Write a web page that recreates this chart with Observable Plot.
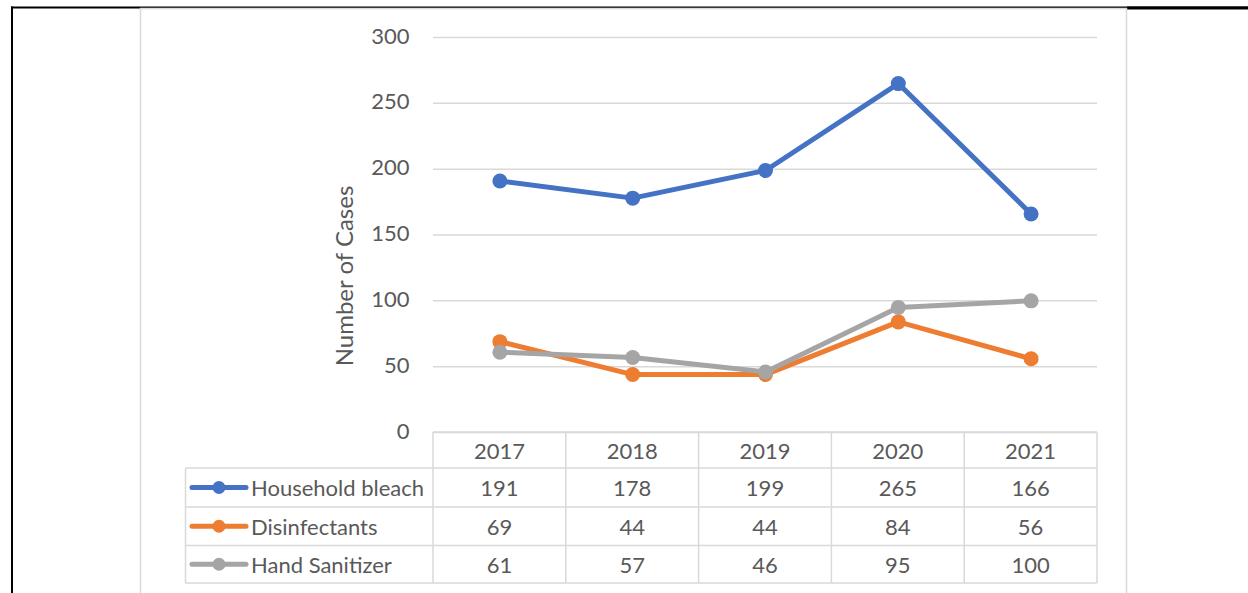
<!DOCTYPE html>
<html><head><meta charset="utf-8">
<script src="https://cdn.jsdelivr.net/npm/d3@7"></script>
<script src="https://cdn.jsdelivr.net/npm/@observablehq/plot@0.6"></script>
<style>html,body{margin:0;padding:0;background:#fff;overflow:hidden} svg{display:block}</style>
</head><body><div id="chart"></div>
<script>
// ---- data ----
const years = ["2017", "2018", "2019", "2020", "2021"];
const seriesNames = ["Household bleach", "Disinfectants", "Hand Sanitizer"];
const householdBleach = [191, 178, 199, 265, 166];
const disinfectants = [69, 44, 44, 84, 56];
const handSanitizer = [61, 57, 46, 95, 100];
const seriesColors = ["#4472C4", "#ED7D31", "#A5A5A5"];
const yTicks = [0, 50, 100, 150, 200, 250, 300];
const yLabel = "Number of Cases";

const seriesValues = [householdBleach, disinfectants, handSanitizer];
const data = seriesNames.flatMap((s, i) => years.map((y, j) => ({series: s, year: y, value: seriesValues[i][j]})));

const FONT = "Lato, 'Open Sans', sans-serif";
const TEXT = "#595959";
const GRID = "#D9D9D9";
const W = 1248, H = 593;
const plotL = 433, plotR = 1097, plotT = 37, plotB = 432;

const chart = Plot.plot({
  width: W, height: H,
  marginLeft: plotL, marginRight: W - plotR, marginTop: plotT, marginBottom: H - plotB,
  style: {fontFamily: FONT, fontSize: "22px", color: TEXT, background: "white", overflow: "visible"},
  x: {type: "point", domain: years, padding: 0.5, round: false, axis: null},
  y: {domain: [0, 300], axis: null},
  color: {domain: seriesNames, range: seriesColors},
  marks: [
    Plot.gridY(yTicks, {stroke: GRID, strokeOpacity: 1, strokeWidth: 1.5}),
    Plot.axisY(yTicks, {tickSize: 0, tickPadding: 24, label: null, fontSize: 22, fill: TEXT, dy: -1}),
    Plot.line(data, {x: "year", y: "value", z: "series", stroke: "series", strokeWidth: 5, strokeLinejoin: "round", strokeLinecap: "round"}),
    Plot.dot(data, {x: "year", y: "value", fill: "series", r: 7.5})
  ]
});
document.getElementById("chart").appendChild(chart);

// ---- frame & data table drawn with the Plot scales ----
const svg = d3.select(chart);
const xs = chart.scale("x");
const ys = chart.scale("y");
const step = (xs.apply(years[1]) - xs.apply(years[0]));
const colL = y => xs.apply(y) - step / 2;
const colR = y => xs.apply(y) + step / 2;
const y0 = ys.apply(0);
const rows = [y0, 468, 507, 545.5, 583];
const tableLeft = 185.5;
const tableRight = colR(years[years.length - 1]);

const g = svg.append("g");
// page borders
g.append("line").attr("x1", 11).attr("x2", W).attr("y1", 7.5).attr("y2", 7.5).attr("stroke", "#000").attr("stroke-width", 2);
g.append("line").attr("x1", 1127).attr("x2", W).attr("y1", 8).attr("y2", 8).attr("stroke", "#000").attr("stroke-width", 3);
g.append("line").attr("x1", 12).attr("x2", 12).attr("y1", 6.5).attr("y2", H).attr("stroke", "#000").attr("stroke-width", 2);
// chart area border
g.append("rect").attr("x", 140.5).attr("y", 8.5).attr("width", 986).attr("height", H + 10)
  .attr("fill", "none").attr("stroke", GRID).attr("stroke-width", 1.5);

// table lines
const tl = g.append("g").attr("stroke", GRID).attr("stroke-width", 1.5);
tl.append("line").attr("x1", colL(years[0])).attr("x2", tableRight).attr("y1", rows[0]).attr("y2", rows[0]);
rows.slice(1).forEach(r => tl.append("line").attr("x1", tableLeft).attr("x2", tableRight).attr("y1", r).attr("y2", r));
years.forEach(y => tl.append("line").attr("x1", colL(y)).attr("x2", colL(y)).attr("y1", rows[0]).attr("y2", rows[4]));
tl.append("line").attr("x1", tableRight).attr("x2", tableRight).attr("y1", rows[0]).attr("y2", rows[4]);
tl.append("line").attr("x1", tableLeft).attr("x2", tableLeft).attr("y1", rows[1]).attr("y2", rows[4]);

const tt = g.append("g").attr("font-family", FONT).attr("font-size", 22).attr("fill", TEXT).attr("dominant-baseline", "central");
years.forEach(y => tt.append("text").attr("x", xs.apply(y)).attr("y", (rows[0] + rows[1]) / 2).attr("text-anchor", "middle").text(y));
seriesNames.forEach((s, i) => {
  const cy = (rows[i + 1] + rows[i + 2]) / 2;
  years.forEach((y, j) => tt.append("text").attr("x", xs.apply(y)).attr("y", cy).attr("text-anchor", "middle").text(seriesValues[i][j]));
  const c = chart.scale("color").apply(s);
  g.append("line").attr("x1", 192).attr("x2", 246).attr("y1", cy).attr("y2", cy).attr("stroke", c).attr("stroke-width", 5).attr("stroke-linecap", "round");
  g.append("circle").attr("cx", 219).attr("cy", cy).attr("r", 6.5).attr("fill", c);
  tt.append("text").attr("x", 251).attr("y", cy).attr("text-anchor", "start").text(s);
});

// y axis title
g.append("text").attr("transform", `translate(343,276) rotate(-90)`).attr("text-anchor", "middle")
  .attr("dominant-baseline", "central").attr("font-family", FONT).attr("font-size", 24).attr("fill", TEXT).text(yLabel);
</script>
</body></html>
